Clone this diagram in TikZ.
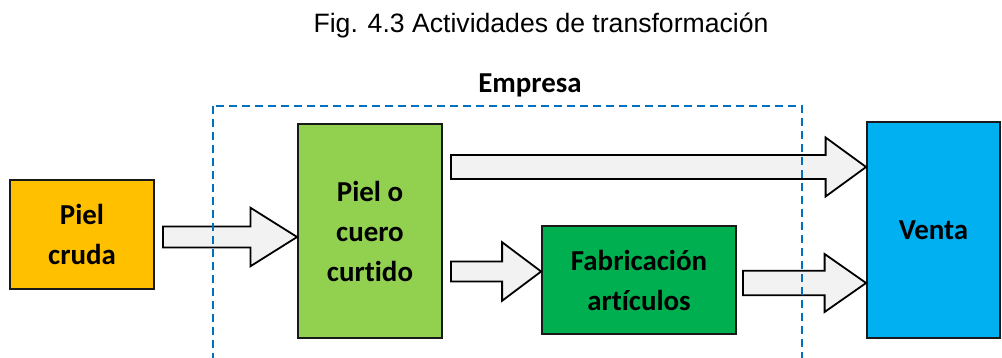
\documentclass[tikz,border=0pt]{standalone}
\usepackage{fontspec}
\setmainfont[Ligatures=NoCommon]{Carlito}
\newfontfamily\arialf{Liberation Sans}
\usetikzlibrary{calc}
\definecolor{orangeC}{HTML}{FFC000}
\definecolor{lgreenC}{HTML}{92D050}
\definecolor{dgreenC}{HTML}{00B050}
\definecolor{blueC}{HTML}{00B0F0}
\definecolor{arrowgray}{HTML}{F2F2F2}
\definecolor{dashblue}{HTML}{0070C0}
\newcommand\barrowx[5]{\draw[barr] let \p1=(#1), \p2=(#2) in (\x1,\y1+#3) -- (\x2-#5,\y1+#3) -- (\x2-#5,\y1+#4) -- (\x2,\y1) -- (\x2-#5,\y1-#4) -- (\x2-#5,\y1-#3) -- (\x1,\y1-#3) -- cycle;}
\begin{document}
\begin{tikzpicture}[x=1pt,y=-1pt,
  box/.style={draw=black!90, line width=1.8pt, inner sep=0pt, align=center, font=\fontsize{28.9}{40}\selectfont\bfseries},
  barr/.style={draw=black, fill=arrowgray, line width=1.8pt, line join=miter},
  lbl/.style={inner sep=0pt, font=\fontsize{28.9}{34}\selectfont\bfseries}]
\useasboundingbox (0,0) rectangle (1002,358);
\node[inner sep=0pt, font=\arialf\fontsize{26.6}{32}\selectfont] (title) at (541,25) {Fig. 4.3 Actividades de transformación};
\node[lbl] (emp) at (530,85) {Empresa};
\node[box, fill=orangeC, minimum width=144pt, minimum height=109pt] (cruda) at (82,234.5) {Piel\\cruda};
\node[box, fill=lgreenC, minimum width=144pt, minimum height=214pt] (piel) at (370,231) {Piel o\\cuero\\curtido};
\node[box, fill=dgreenC, minimum width=194pt, minimum height=108pt] (fab) at (639,280) {Fabricación\\artículos};
\node[box, fill=blueC, minimum width=133pt, minimum height=216pt] (venta) at (933.5,230) {Venta};
\coordinate (s1) at ($(cruda.east)+(8,2.5)$);
\coordinate (s2) at ($(piel.east)+(8,-64)$);
\coordinate (s3) at ($(piel.east)+(8,40.5)$);
\coordinate (s4) at ($(fab.east)+(6,3)$);
\barrowx{s1}{piel.west |- s1}{10.5}{29.3}{46.7}
\barrowx{s2}{venta.west |- s2}{12}{29.5}{40.5}
\barrowx{s3}{fab.west |- s3}{10}{29.3}{39}
\barrowx{s4}{venta.west |- s4}{12.3}{29}{41.5}
\begin{scope}
\clip (0,0) rectangle (1002,358);
\draw[dashblue, line width=1.6pt, dash pattern=on 8pt off 5pt] (213,106) rectangle (802,400);
\end{scope}
\end{tikzpicture}
\end{document}
